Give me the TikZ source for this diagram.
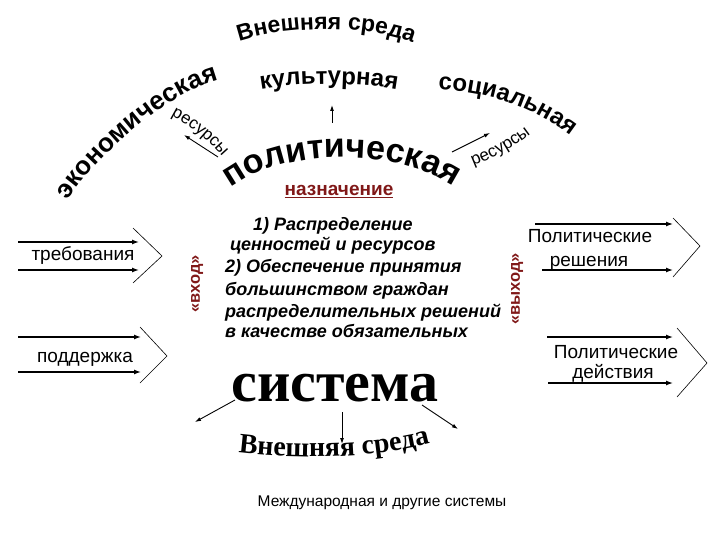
\documentclass[tikz,border=0pt]{standalone}
\usepackage{fontspec}
\setmainfont{Liberation Sans}
\newfontfamily\serifbold{Liberation Serif}
\usetikzlibrary{arrows.meta,decorations.text}
\definecolor{darkred}{RGB}{128,24,24}
\tikzset{
  along/.style={decorate,decoration={text along path,text align=center,text={#1}}},
  arr/.style={line width=1.3pt,-{Latex[length=7pt,width=5pt]}},
  thinarr/.style={line width=0.9pt,-{Latex[length=6pt,width=4pt]}},
  chev/.style={line width=0.6pt},
  lbl/.style={inner sep=0pt,anchor=base,font=\fontsize{19}{22}\selectfont},
  redlbl/.style={inner sep=0pt,text=darkred,font=\bfseries\fontsize{16.5}{16.5}\selectfont,rotate=90},
  ctext/.style={inner sep=0pt,anchor=base west,font=\bfseries\itshape\fontsize{18}{22}\selectfont},
}
\begin{document}
\begin{tikzpicture}[x=1pt,y=-1pt]
\useasboundingbox (0,0) rectangle (720,540);

% curved words
\path[along={|\bfseries\fontsize{23}{23}\selectfont|Внешняя среда}] (232,44) .. controls (278,25) and (372,23) .. (420,46);
\path[along={|\bfseries\fontsize{24}{24}\selectfont|культурная}] (258,90) .. controls (300,82) and (360,82) .. (400,90);
\path[along={|\bfseries\fontsize{26}{26}\selectfont|экономическая}] (68,200) .. controls (93,160) and (166,93) .. (218,80);
\path[along={|\bfseries\fontsize{24}{24}\selectfont|социальная}] (432,90) .. controls (480,90) and (530,103) .. (576,140);
\path[along={|\bfseries\fontsize{34}{34}\selectfont|политическая}] (228,190) .. controls (280,147) and (400,147) .. (456,188);
\path[along={|\fontsize{17}{17}\selectfont|ресурсы}] (163,112) .. controls (185,122) and (208,138) .. (228,164);
\path[along={|\fontsize{17}{17}\selectfont|ресурсы}] (462,170) .. controls (490,160) and (515,148) .. (540,126);
\path[along={|\serifbold\bfseries\fontsize{28}{28}\selectfont|Внешняя среда}] (226,451) .. controls (290,460) and (380,460) .. (442,440);

% small arrows at the top
\coordinate (rl1) at (218,157); \coordinate (rl2) at (184,135);
\coordinate (up1) at (332,123); \coordinate (up2) at (332,105);
\coordinate (rr1) at (452,152); \coordinate (rr2) at (490,133);
\draw[thinarr] (rl1) -- (rl2);
\draw[thinarr] (up1) -- (up2);
\draw[thinarr] (rr1) -- (rr2);

% purpose
\node[inner sep=0pt,anchor=base,text=darkred,font=\bfseries\fontsize{19}{19}\selectfont] (naz) at (339,196) {\underline{назначение}};

\node[ctext] (c1) at (253,230) {1) Распределение};
\node[ctext] (c2) at (230,251) {ценностей и ресурсов};
\node[ctext] (c3) at (225,272) {2) Обеспечение принятия};
\node[ctext] (c4) at (225,295) {большинством граждан};
\node[ctext] (c5) at (225,317) {распределительных решений};
\node[ctext] (c6) at (225,337) {в качестве обязательных};

\node[redlbl] (vhod) at (197,284) {«вход»};
\node[redlbl] (vyhod) at (517,289) {«выход»};

% inputs
\coordinate (t1a) at (18,242); \coordinate (t1b) at (139,242);
\coordinate (t2a) at (18,270); \coordinate (t2b) at (139,270);
\draw[arr] (t1a) -- (t1b);
\draw[arr] (t2a) -- (t2b);
\draw[chev] (133,228) -- (162,256) -- (133,283);
\node[lbl] (treb) at (83,260) {требования};

\coordinate (p1a) at (18,337); \coordinate (p1b) at (141,337);
\coordinate (p2a) at (18,372); \coordinate (p2b) at (141,372);
\draw[arr] (p1a) -- (p1b);
\draw[arr] (p2a) -- (p2b);
\draw[chev] (140,327) -- (167,356) -- (140,383);
\node[lbl] (podd) at (85,362) {поддержка};

% outputs
\coordinate (r1a) at (535,224); \coordinate (r1b) at (673,224);
\coordinate (r2a) at (542,270); \coordinate (r2b) at (673,270);
\draw[arr] (r1a) -- (r1b);
\draw[arr] (r2a) -- (r2b);
\draw[chev] (673,218) -- (700,246) -- (673,277);
\node[lbl] (pr1) at (590,243) {Политические};
\node[lbl] (pr2) at (589,266) {решения};

\coordinate (d1a) at (547,337); \coordinate (d1b) at (673,337);
\coordinate (d2a) at (548,383); \coordinate (d2b) at (673,383);
\draw[arr] (d1a) -- (d1b);
\draw[arr] (d2a) -- (d2b);
\draw[chev] (677,328) -- (707,363) -- (677,397);
\node[lbl] (pd1) at (616,358) {Политические};
\node[lbl] (pd2) at (613,378) {действия};

% system
\node[inner sep=0pt,anchor=base] (sys) at (335,401) {\serifbold\bfseries\fontsize{58}{58}\selectfont система};
\coordinate (s1a) at (235,400); \coordinate (s1b) at (195,422);
\coordinate (s2a) at (342,412); \coordinate (s2b) at (342,444);
\coordinate (s3a) at (422,405); \coordinate (s3b) at (458,429);
\draw[thinarr] (s1a) -- (s1b);
\draw[thinarr] (s2a) -- (s2b);
\draw[thinarr] (s3a) -- (s3b);

\node[inner sep=0pt,anchor=base,font=\fontsize{15.5}{18}\selectfont] (intl) at (382,506) {Международная и другие системы};
\end{tikzpicture}
\end{document}
